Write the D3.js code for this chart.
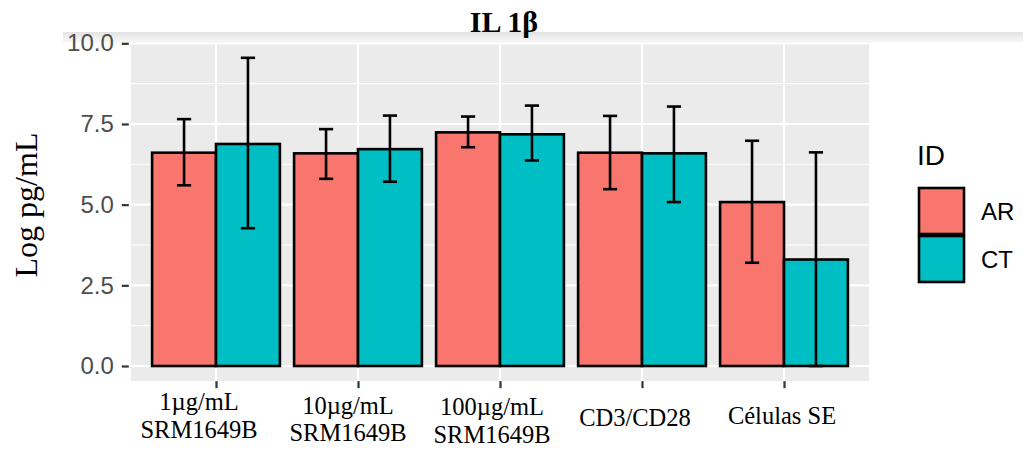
<!DOCTYPE html>
<html>
<head>
<meta charset="utf-8">
<script src="https://cdn.jsdelivr.net/npm/d3@7"></script>
<style>
  html, body { margin: 0; padding: 0; background: #ffffff; }
  svg { display: block; }
</style>
</head>
<body>
<svg id="chart" width="1023" height="454"></svg>
<script>
// IL 1β cytokine levels (log pg/mL) by stimulus and group
const categories = ["1µg/mL SRM1649B", "10µg/mL SRM1649B", "100µg/mL SRM1649B", "CD3/CD28", "Células SE"];
const labelLines = [["1µg/mL", "SRM1649B"], ["10µg/mL", "SRM1649B"], ["100µg/mL", "SRM1649B"], ["CD3/CD28"], ["Células SE"]];
const groups = ["AR", "CT"];
const meanAR  = [6.61, 6.59, 7.24, 6.61, 5.08];
const meanCT  = [6.88, 6.72, 7.18, 6.59, 3.30];
const lowerAR = [5.60, 5.80, 6.78, 5.48, 3.20];
const upperAR = [7.65, 7.34, 7.73, 7.75, 6.98];
const lowerCT = [4.27, 5.71, 6.37, 5.08, 0.00];
const upperCT = [9.55, 7.76, 8.07, 8.04, 6.62];
const yTicks = [0, 2.5, 5, 7.5, 10];
const yMinor = [1.25, 3.75, 6.25, 8.75];

const colors = { AR: "#F8766D", CT: "#00BFC4" };

const rows = [];
categories.forEach((c, i) => {
  rows.push({ cat: c, id: "AR", mean: meanAR[i], lo: lowerAR[i], hi: upperAR[i] });
  rows.push({ cat: c, id: "CT", mean: meanCT[i], lo: lowerCT[i], hi: upperCT[i] });
});

const svg = d3.select("#chart");

const panel = { left: 130.8, right: 869.2 };
const y = d3.scaleLinear().domain([0, 10]).range([366, 43.3]);
const panelTop = y(10.5), panelBottom = y(-0.47);

const x0 = d3.scaleBand().domain(categories)
  .range([panel.left, panel.right]).paddingInner(0).paddingOuter(0.1);
const bw = x0.bandwidth();
const x1 = d3.scaleBand().domain(groups).range([0.05 * bw, 0.95 * bw]).padding(0);
const capW = 0.1 * bw;

// panel background
svg.append("rect")
  .attr("x", panel.left).attr("y", panelTop)
  .attr("width", panel.right - panel.left).attr("height", panelBottom - panelTop)
  .attr("fill", "#EBEBEB");

const grid = svg.append("g");
grid.selectAll("line.minor").data(yMinor).join("line")
  .attr("x1", panel.left).attr("x2", panel.right)
  .attr("y1", d => y(d)).attr("y2", d => y(d))
  .attr("stroke", "#ffffff").attr("stroke-width", 1.1);
grid.selectAll("line.majy").data(yTicks).join("line")
  .attr("x1", panel.left).attr("x2", panel.right)
  .attr("y1", d => y(d)).attr("y2", d => y(d))
  .attr("stroke", "#ffffff").attr("stroke-width", 2.2);
grid.selectAll("line.majx").data(categories).join("line")
  .attr("x1", d => x0(d) + bw / 2).attr("x2", d => x0(d) + bw / 2)
  .attr("y1", panelTop).attr("y2", panelBottom)
  .attr("stroke", "#ffffff").attr("stroke-width", 2.2);

// bars
const bars = svg.append("g");
bars.selectAll("rect").data(rows).join("rect")
  .attr("x", d => x0(d.cat) + x1(d.id))
  .attr("width", x1.bandwidth())
  .attr("y", d => y(d.mean))
  .attr("height", d => y(0) - y(d.mean))
  .attr("fill", d => colors[d.id])
  .attr("stroke", "#000000").attr("stroke-width", 2.6);

// error bars
const err = svg.append("g").attr("stroke", "#000000").attr("stroke-width", 2.6);
rows.forEach(d => {
  const cx = x0(d.cat) + x1(d.id) + x1.bandwidth() / 2;
  err.append("line").attr("x1", cx).attr("x2", cx).attr("y1", y(d.hi)).attr("y2", y(d.lo));
  err.append("line").attr("x1", cx - capW / 2).attr("x2", cx + capW / 2).attr("y1", y(d.hi)).attr("y2", y(d.hi));
  err.append("line").attr("x1", cx - capW / 2).attr("x2", cx + capW / 2).attr("y1", y(d.lo)).attr("y2", y(d.lo));
});

// top cover with soft shadow band
const defs = svg.append("defs");
const grad = defs.append("linearGradient").attr("id", "band").attr("x1", 0).attr("x2", 0).attr("y1", 0).attr("y2", 1);
grad.append("stop").attr("offset", "0%").attr("stop-color", "#e2e2e2");
grad.append("stop").attr("offset", "60%").attr("stop-color", "#f1f1f1");
grad.append("stop").attr("offset", "100%").attr("stop-color", "#f6f6f6");
svg.append("rect").attr("x", 0).attr("y", 0).attr("width", 1023).attr("height", 32).attr("fill", "#ffffff");
svg.append("rect").attr("x", 63).attr("y", 32).attr("width", 960).attr("height", 10.5).attr("fill", "url(#band)");

// y axis
const yAxis = d3.axisLeft(y).tickValues(yTicks).tickFormat(d3.format(".1f")).tickSize(7).tickPadding(8);
const gy = svg.append("g").attr("transform", `translate(${panel.left - 2},0)`).call(yAxis);
gy.select(".domain").remove();
gy.selectAll(".tick line").attr("stroke", "#333333").attr("stroke-width", 2.2);
gy.selectAll(".tick text").attr("fill", "#4D4D4D")
  .style("font-family", "'Liberation Sans', Arial, sans-serif").style("font-size", "24px");

// x axis ticks
const xAxis = d3.axisBottom(d3.scalePoint().domain(categories)
  .range([x0(categories[0]) + bw / 2, x0(categories[4]) + bw / 2]))
  .tickSize(7).tickFormat("");
const gx = svg.append("g").attr("transform", `translate(0,${panelBottom})`).call(xAxis);
gx.select(".domain").remove();
gx.selectAll(".tick line").attr("stroke", "#333333").attr("stroke-width", 2.2);

// x labels (serif, set individually under each tick)
const labelShift = [-17, -10, -8, -7, -2];
const labelBase = [[409.5, 437.5], [414, 441], [415, 443], [425.5], [424]];
const xl = svg.append("g")
  .style("font-family", "'Liberation Serif', 'Times New Roman', serif")
  .style("font-size", "24.5px").attr("fill", "#000000").attr("text-anchor", "middle");
categories.forEach((c, i) => {
  const cx = x0(c) + bw / 2 + labelShift[i];
  labelLines[i].forEach((ln, j) => {
    xl.append("text").attr("x", cx).attr("y", labelBase[i][j]).text(ln);
  });
});

// title
svg.append("text").attr("x", 504).attr("y", 32).attr("text-anchor", "middle")
  .style("font-family", "'Liberation Serif', 'Times New Roman', serif")
  .style("font-size", "30px").style("font-weight", "bold").text("IL 1β");

// y title
svg.append("text").attr("transform", "translate(37,205) rotate(-90)").attr("text-anchor", "middle")
  .style("font-family", "'Liberation Serif', 'Times New Roman', serif")
  .style("font-size", "32px").text("Log pg/mL");

// legend
const lg = svg.append("g");
lg.append("text").attr("x", 917).attr("y", 165)
  .style("font-family", "'Liberation Sans', Arial, sans-serif").style("font-size", "28px").text("ID");
const keyY = d3.scaleBand().domain(groups).range([187, 283]);
groups.forEach(g => {
  lg.append("rect").attr("x", 919).attr("y", keyY(g) + 1)
    .attr("width", 45).attr("height", keyY.bandwidth() - 2)
    .attr("fill", colors[g]).attr("stroke", "#000000").attr("stroke-width", 2.6);
  lg.append("text").attr("x", 981).attr("y", keyY(g) + keyY.bandwidth() / 2 + 9)
    .style("font-family", "'Liberation Sans', Arial, sans-serif").style("font-size", "24px").text(g);
});
</script>
</body>
</html>
